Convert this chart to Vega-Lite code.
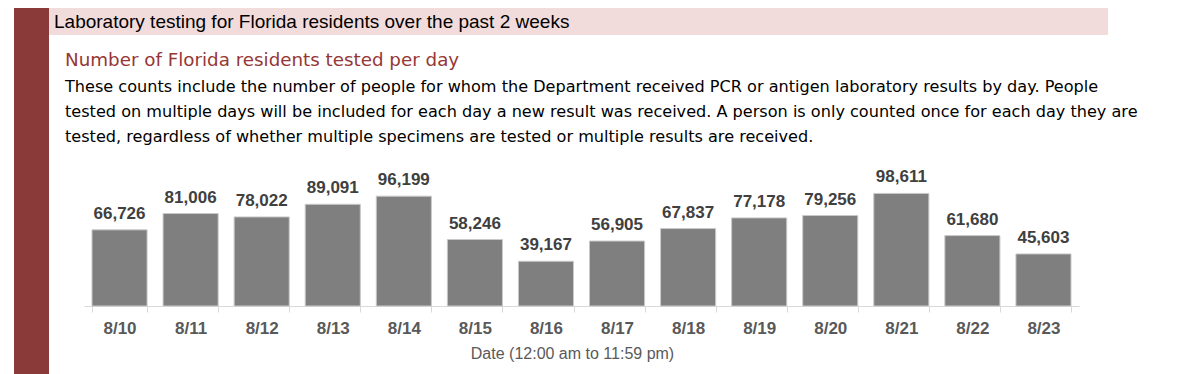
{
  "$schema": "https://vega.github.io/schema/vega-lite/v6.json",
  "background": "white",
  "padding": {"left": 14, "top": 8, "right": 0, "bottom": 0},
  "config": {"view": {"stroke": null}},
  "datasets": {
    "tests": [
      {"date": "8/10", "count": 66726},
      {"date": "8/11", "count": 81006},
      {"date": "8/12", "count": 78022},
      {"date": "8/13", "count": 89091},
      {"date": "8/14", "count": 96199},
      {"date": "8/15", "count": 58246},
      {"date": "8/16", "count": 39167},
      {"date": "8/17", "count": 56905},
      {"date": "8/18", "count": 67837},
      {"date": "8/19", "count": 77178},
      {"date": "8/20", "count": 79256},
      {"date": "8/21", "count": 98611},
      {"date": "8/22", "count": 61680},
      {"date": "8/23", "count": 45603}
    ],
    "empty": []
  },
  "spacing": 0,
  "hconcat": [
    {
      "width": 35,
      "height": 366,
      "data": {"name": "empty"},
      "mark": "rect",
      "view": {"fill": "#8B3A3A", "stroke": null}
    },
    {
      "spacing": 16,
      "vconcat": [
        {
          "width": 1059,
          "height": 27,
          "data": {"name": "empty"},
          "mark": "rect",
          "view": {"fill": "#F2DCDB", "stroke": null},
          "title": {
            "text": "Laboratory testing for Florida residents over the past 2 weeks",
            "anchor": "start",
            "frame": "group",
            "dx": 5,
            "offset": -24,
            "font": "Liberation Sans",
            "fontSize": 19,
            "fontWeight": "normal",
            "color": "#000000"
          }
        },
        {
          "spacing": 0,
          "title": {
            "text": "Number of Florida residents tested per day",
            "subtitle": [
              "These counts include the number of people for whom the Department received PCR or antigen laboratory results by day. People",
              "tested on multiple days will be included for each day a new result was received. A person is only counted once for each day they are",
              "tested, regardless of whether multiple specimens are tested or multiple results are received."
            ],
            "anchor": "start",
            "dx": 16,
            "offset": 13.5,
            "font": "DejaVu Sans",
            "fontSize": 18.3,
            "fontWeight": "normal",
            "color": "#953735",
            "subtitleFont": "DejaVu Sans",
            "subtitleFontSize": 16.1,
            "subtitleColor": "#000000",
            "subtitleLineHeight": 25,
            "subtitlePadding": 9
          },
          "hconcat": [
            {
              "width": 35,
              "height": 146,
              "data": {"name": "empty"},
              "mark": "rect"
            },
            {
              "width": 995,
              "height": 146,
              "data": {"name": "tests"},
              "encoding": {
                "x": {
                  "field": "date",
                  "type": "ordinal",
                  "sort": null,
                  "scale": {"paddingInner": 0.225, "paddingOuter": 0.1125},
                  "axis": {
                    "title": "Date (12:00 am to 11:59 pm)",
                    "labelAngle": 0,
                    "tickBand": "extent",
                    "domainColor": "#D9D9D9",
                    "tickColor": "#D9D9D9",
                    "tickSize": 6,
                    "labelFont": "Liberation Sans",
                    "labelFontSize": 17,
                    "labelFontWeight": "bold",
                    "labelColor": "#595959",
                    "labelPadding": 8,
                    "titleFont": "Liberation Sans",
                    "titleFontSize": 16,
                    "titleFontWeight": "normal",
                    "titleColor": "#595959",
                    "titlePadding": 9,
                    "titleX": 488
                  }
                },
                "y": {
                  "field": "count",
                  "type": "quantitative",
                  "scale": {"domain": [0, 127900], "nice": false},
                  "axis": null
                }
              },
              "layer": [
                {
                  "mark": {"type": "bar", "color": "#7F7F7F", "stroke": "#C9C9C9", "strokeWidth": 1}
                },
                {
                  "mark": {
                    "type": "text",
                    "baseline": "alphabetic",
                    "dy": -11,
                    "font": "Liberation Sans",
                    "fontSize": 17,
                    "fontWeight": "bold",
                    "color": "#404040"
                  },
                  "encoding": {
                    "text": {"field": "count", "type": "quantitative", "format": ",d"}
                  }
                }
              ]
            }
          ]
        }
      ]
    }
  ]
}
